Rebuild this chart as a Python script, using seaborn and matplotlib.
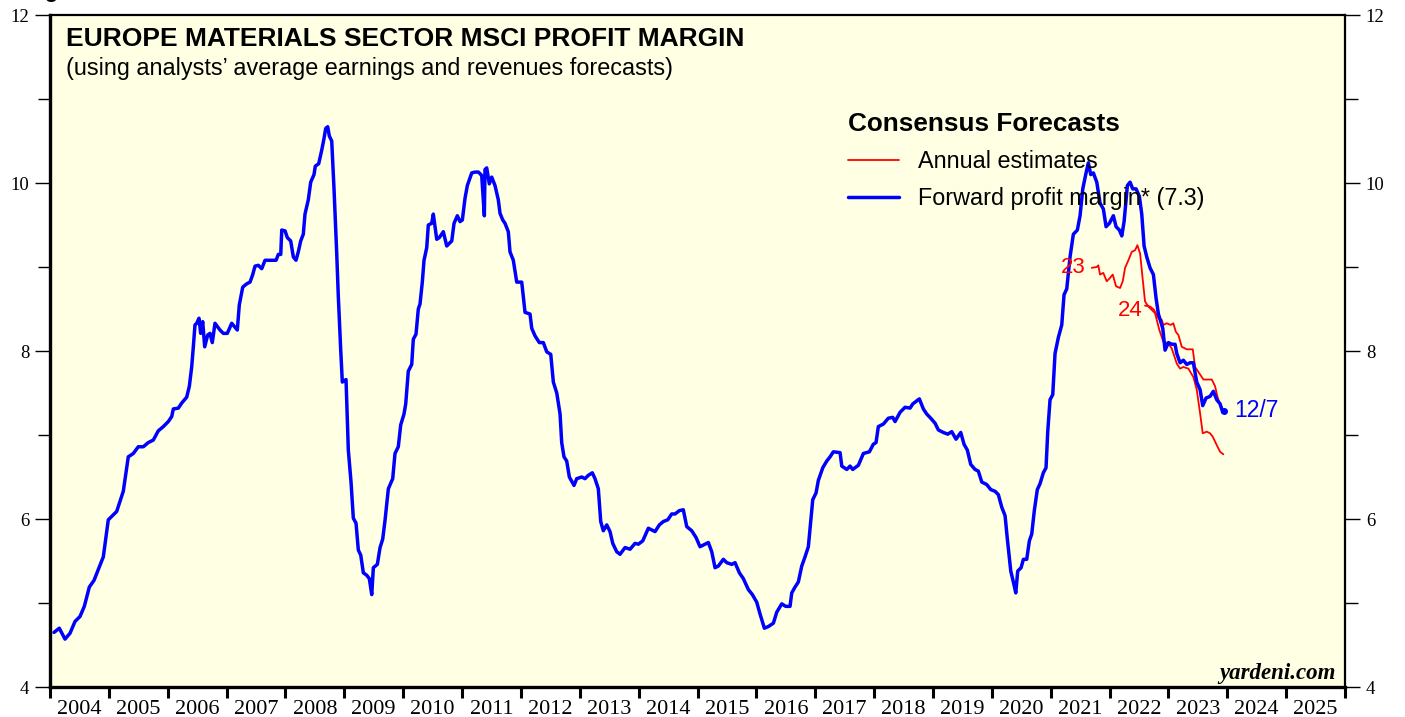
#!/usr/bin/env python3
# -*- coding: utf-8 -*-
"""Europe Materials sector MSCI profit margin (weekly, read off the reference chart)."""

import numpy as np
import pandas as pd
import matplotlib
matplotlib.use("Agg")
import matplotlib.pyplot as plt
from matplotlib.ticker import FixedLocator, NullFormatter
import seaborn as sns

# ---------------------------------------------------------------------------
# Data (decimal years, margin in %)
# ---------------------------------------------------------------------------
fwd_dates = [
    2004.068, 2004.158, 2004.255, 2004.340, 2004.425, 2004.510, 2004.583, 2004.668,
    2004.748, 2004.906, 2004.990, 2005.133, 2005.245, 2005.330, 2005.415, 2005.500,
    2005.585, 2005.670, 2005.755, 2005.840, 2005.925, 2006.010, 2006.068, 2006.095,
    2006.180, 2006.237, 2006.322, 2006.367, 2006.407, 2006.435, 2006.463, 2006.492,
    2006.531, 2006.560, 2006.594, 2006.628, 2006.679, 2006.718, 2006.757, 2006.803,
    2006.888, 2006.944, 2007.012, 2007.087, 2007.182, 2007.216, 2007.274, 2007.342,
    2007.398, 2007.444, 2007.483, 2007.539, 2007.597, 2007.653, 2007.767, 2007.840,
    2007.879, 2007.920, 2007.937, 2007.993, 2008.032, 2008.089, 2008.134, 2008.179,
    2008.218, 2008.259, 2008.303, 2008.332, 2008.388, 2008.429, 2008.485, 2008.507,
    2008.565, 2008.616, 2008.655, 2008.684, 2008.718, 2008.745, 2008.786, 2008.825,
    2008.871, 2008.898, 2008.939, 2008.966, 2009.029, 2009.068, 2009.114, 2009.153,
    2009.199, 2009.238, 2009.279, 2009.323, 2009.381, 2009.425, 2009.466, 2009.493,
    2009.561, 2009.607, 2009.652, 2009.691, 2009.748, 2009.822, 2009.861, 2009.917,
    2009.958, 2010.014, 2010.043, 2010.087, 2010.145, 2010.172, 2010.218, 2010.257,
    2010.286, 2010.325, 2010.354, 2010.400, 2010.427, 2010.485, 2010.512, 2010.570,
    2010.614, 2010.682, 2010.740, 2010.825, 2010.864, 2010.920, 2010.966, 2011.005,
    2011.051, 2011.090, 2011.165, 2011.221, 2011.277, 2011.334, 2011.379, 2011.390,
    2011.419, 2011.463, 2011.504, 2011.560, 2011.616, 2011.645, 2011.691, 2011.730,
    2011.786, 2011.815, 2011.871, 2011.929, 2012.014, 2012.070, 2012.155, 2012.184,
    2012.240, 2012.313, 2012.381, 2012.439, 2012.507, 2012.551, 2012.609, 2012.665,
    2012.693, 2012.732, 2012.778, 2012.823, 2012.902, 2012.948, 2013.033, 2013.089,
    2013.145, 2013.213, 2013.259, 2013.315, 2013.356, 2013.400, 2013.458, 2013.514,
    2013.560, 2013.628, 2013.684, 2013.769, 2013.854, 2013.939, 2013.995, 2014.070,
    2014.165, 2014.279, 2014.352, 2014.420, 2014.494, 2014.562, 2014.619, 2014.692,
    2014.759, 2014.817, 2014.902, 2014.975, 2015.043, 2015.128, 2015.184, 2015.242,
    2015.298, 2015.354, 2015.439, 2015.497, 2015.582, 2015.638, 2015.711, 2015.779,
    2015.864, 2015.932, 2016.006, 2016.062, 2016.136, 2016.204, 2016.289, 2016.346,
    2016.431, 2016.499, 2016.572, 2016.601, 2016.657, 2016.713, 2016.771, 2016.827,
    2016.883, 2016.958, 2017.014, 2017.053, 2017.128, 2017.196, 2017.252, 2017.308,
    2017.422, 2017.451, 2017.536, 2017.592, 2017.637, 2017.733, 2017.818, 2017.920,
    2017.987, 2018.033, 2018.072, 2018.157, 2018.242, 2018.317, 2018.356, 2018.441,
    2018.526, 2018.611, 2018.657, 2018.713, 2018.769, 2018.837, 2018.894, 2018.962,
    2019.036, 2019.092, 2019.177, 2019.251, 2019.319, 2019.392, 2019.472, 2019.528,
    2019.584, 2019.642, 2019.715, 2019.771, 2019.829, 2019.914, 2019.982, 2020.055,
    2020.111, 2020.169, 2020.225, 2020.264, 2020.322, 2020.366, 2020.407, 2020.440,
    2020.497, 2020.536, 2020.593, 2020.638, 2020.678, 2020.722, 2020.773, 2020.819,
    2020.875, 2020.921, 2020.950, 2020.989, 2021.035, 2021.074, 2021.130, 2021.188,
    2021.227, 2021.273, 2021.329, 2021.385, 2021.453, 2021.499, 2021.545, 2021.601,
    2021.640, 2021.681, 2021.725, 2021.783, 2021.839, 2021.895, 2021.941, 2021.997,
    2022.065, 2022.111, 2022.167, 2022.208, 2022.247, 2022.303, 2022.349, 2022.394,
    2022.451, 2022.507, 2022.547, 2022.587, 2022.632, 2022.688, 2022.745, 2022.790,
    2022.830, 2022.870, 2022.904, 2022.943, 2023.000, 2023.057, 2023.113, 2023.142,
    2023.198, 2023.254, 2023.312, 2023.368, 2023.424, 2023.481, 2023.538, 2023.583,
    2023.640, 2023.708, 2023.764, 2023.821, 2023.878, 2023.923, 2023.950,
]
fwd_margin = [
    4.65, 4.70, 4.57, 4.64, 4.78, 4.84, 4.96, 5.19,
    5.27, 5.55, 5.99, 6.09, 6.33, 6.74, 6.78, 6.86,
    6.86, 6.91, 6.94, 7.05, 7.10, 7.16, 7.22, 7.31,
    7.32, 7.38, 7.45, 7.58, 7.81, 8.05, 8.31, 8.33,
    8.39, 8.21, 8.35, 8.05, 8.19, 8.21, 8.10, 8.33,
    8.25, 8.21, 8.21, 8.33, 8.25, 8.55, 8.76, 8.80,
    8.82, 8.91, 9.01, 9.02, 8.98, 9.08, 9.08, 9.08,
    9.15, 9.15, 9.44, 9.43, 9.35, 9.31, 9.12, 9.08,
    9.18, 9.31, 9.39, 9.63, 9.80, 10.01, 10.10, 10.20,
    10.23, 10.39, 10.53, 10.65, 10.67, 10.56, 10.50, 9.93,
    9.16, 8.65, 8.01, 7.63, 7.66, 6.82, 6.44, 6.01,
    5.95, 5.63, 5.57, 5.36, 5.33, 5.29, 5.10, 5.42,
    5.46, 5.66, 5.76, 5.98, 6.36, 6.48, 6.78, 6.86,
    7.12, 7.25, 7.37, 7.76, 7.84, 8.14, 8.20, 8.50,
    8.56, 8.82, 9.08, 9.23, 9.50, 9.52, 9.63, 9.33,
    9.35, 9.42, 9.25, 9.31, 9.52, 9.61, 9.54, 9.56,
    9.82, 9.97, 10.12, 10.13, 10.13, 10.09, 9.61, 10.16,
    10.18, 9.99, 10.07, 9.97, 9.80, 9.64, 9.56, 9.52,
    9.42, 9.18, 9.08, 8.82, 8.82, 8.46, 8.44, 8.27,
    8.18, 8.10, 8.10, 7.99, 7.96, 7.63, 7.50, 7.25,
    6.91, 6.74, 6.69, 6.50, 6.40, 6.48, 6.50, 6.48,
    6.52, 6.55, 6.48, 6.36, 5.97, 5.86, 5.93, 5.85,
    5.71, 5.61, 5.58, 5.66, 5.64, 5.71, 5.70, 5.74,
    5.89, 5.85, 5.93, 5.97, 5.99, 6.06, 6.06, 6.10,
    6.11, 5.91, 5.86, 5.78, 5.67, 5.70, 5.72, 5.61,
    5.42, 5.44, 5.52, 5.48, 5.46, 5.48, 5.36, 5.29,
    5.16, 5.10, 5.01, 4.87, 4.70, 4.72, 4.76, 4.89,
    4.99, 4.96, 4.96, 5.12, 5.19, 5.25, 5.44, 5.55,
    5.67, 6.23, 6.31, 6.46, 6.61, 6.69, 6.74, 6.80,
    6.79, 6.63, 6.59, 6.63, 6.59, 6.64, 6.78, 6.80,
    6.89, 6.91, 7.10, 7.13, 7.20, 7.21, 7.16, 7.27,
    7.33, 7.32, 7.37, 7.40, 7.43, 7.31, 7.25, 7.20,
    7.14, 7.06, 7.03, 7.01, 7.04, 6.95, 7.03, 6.89,
    6.82, 6.65, 6.59, 6.57, 6.44, 6.41, 6.35, 6.33,
    6.29, 6.14, 6.04, 5.76, 5.38, 5.25, 5.12, 5.38,
    5.42, 5.52, 5.52, 5.74, 5.82, 6.10, 6.35, 6.42,
    6.55, 6.61, 7.04, 7.42, 7.48, 7.97, 8.16, 8.31,
    8.67, 8.74, 9.12, 9.39, 9.44, 9.61, 9.93, 10.12,
    10.24, 10.10, 10.12, 10.01, 9.76, 9.69, 9.48, 9.52,
    9.61, 9.48, 9.44, 9.37, 9.54, 9.97, 10.01, 9.93,
    9.93, 9.84, 9.63, 9.25, 9.12, 8.99, 8.91, 8.63,
    8.44, 8.35, 8.27, 8.01, 8.10, 8.08, 8.08, 7.97,
    7.86, 7.89, 7.84, 7.86, 7.86, 7.63, 7.54, 7.35,
    7.44, 7.46, 7.52, 7.42, 7.37, 7.27, 7.29,
]

est23_dates = [
    2021.697, 2021.782, 2021.809, 2021.838, 2021.894, 2021.952, 2022.008, 2022.054,
    2022.111, 2022.179, 2022.224, 2022.264, 2022.320, 2022.377, 2022.434, 2022.473,
    2022.519, 2022.564, 2022.603, 2022.659, 2022.717, 2022.773, 2022.802, 2022.846,
    2022.914, 2023.000, 2023.057, 2023.142, 2023.198, 2023.254, 2023.339, 2023.424,
    2023.481, 2023.538, 2023.583, 2023.651, 2023.708, 2023.753, 2023.821, 2023.878,
    2023.934,
]
est23_margin = [
    8.99, 9.00, 9.02, 8.91, 8.93, 8.83, 8.87, 8.91,
    8.77, 8.75, 8.83, 8.99, 9.08, 9.18, 9.20, 9.26,
    9.16, 8.85, 8.59, 8.53, 8.49, 8.45, 8.37, 8.25,
    8.11, 8.09, 8.03, 7.85, 7.79, 7.81, 7.79, 7.69,
    7.54, 7.26, 7.02, 7.04, 7.02, 6.98, 6.88, 6.80,
    6.77,
]

est24_dates = [
    2022.603, 2022.688, 2022.756, 2022.830, 2022.888, 2022.914, 2022.972, 2023.040,
    2023.084, 2023.125, 2023.170, 2023.227, 2023.312, 2023.414, 2023.453, 2023.510,
    2023.595, 2023.662, 2023.737, 2023.793, 2023.832, 2023.889, 2023.934,
]
est24_margin = [
    8.54, 8.53, 8.49, 8.39, 8.37, 8.31, 8.33, 8.31,
    8.33, 8.23, 8.19, 8.05, 8.02, 8.02, 7.81, 7.75,
    7.66, 7.66, 7.66, 7.58, 7.46, 7.34, 7.30,
]

year_labels = list(range(2004, 2026))
y_major = [4, 6, 8, 10, 12]

BLUE = "#0000FF"
RED = "#FF0000"
PANEL = "#FFFFE3"

# ---------------------------------------------------------------------------
# Figure
# ---------------------------------------------------------------------------
sns.set_style("ticks")
plt.rcParams["font.family"] = ["Liberation Sans", "DejaVu Sans"]
plt.rcParams["text.color"] = "black"
plt.rcParams["xtick.color"] = "black"
plt.rcParams["ytick.color"] = "black"

fig = plt.figure(figsize=(14.05, 7.17), dpi=100)
fig.patch.set_facecolor("white")
ax = fig.add_axes([50 / 1405, 30 / 717, 1295 / 1405, 672 / 717])
ax.set_facecolor(PANEL)

fwd = pd.DataFrame({"date": fwd_dates, "margin": fwd_margin})
e23 = pd.DataFrame({"date": est23_dates, "margin": est23_margin})
e24 = pd.DataFrame({"date": est24_dates, "margin": est24_margin})

sns.lineplot(data=e23, x="date", y="margin", color=RED, lw=1.3, ax=ax)
sns.lineplot(data=e24, x="date", y="margin", color=RED, lw=1.3, ax=ax)
sns.lineplot(data=fwd, x="date", y="margin", color=BLUE, lw=2.5, ax=ax,
             label="_fwd")

ax.set_xlim(2004, 2026)
ax.set_ylim(4, 12)
ax.set_xlabel("")
ax.set_ylabel("")

# --- spines ---
for side in ("left", "bottom"):
    ax.spines[side].set_linewidth(2.4)
for side in ("top", "right"):
    ax.spines[side].set_visible(True)
    ax.spines[side].set_linewidth(1.6)
for s in ax.spines.values():
    s.set_color("black")

# --- x axis: year boundaries ticked, labels centred in the year ---
ax.xaxis.set_major_locator(FixedLocator(list(range(2004, 2027))))
ax.xaxis.set_major_formatter(NullFormatter())
ax.xaxis.set_minor_locator(FixedLocator([y + 0.5 for y in year_labels]))
ax.set_xticklabels([str(y) for y in year_labels], minor=True,
                   fontfamily="Liberation Serif", fontsize=16)
ax.tick_params(axis="x", which="major", direction="out", length=8, width=2.2)
ax.tick_params(axis="x", which="minor", length=0, pad=9)

# --- y axis: both sides ---
ax.yaxis.set_major_locator(FixedLocator(y_major))
ax.yaxis.set_minor_locator(FixedLocator([5, 7, 9, 11]))
ax.set_yticklabels([str(v) for v in y_major], fontfamily="Liberation Serif",
                   fontsize=13.5)
ax.tick_params(axis="y", which="both", direction="out", left=True, right=True,
               labelleft=True, labelright=True, width=1.0)
ax.tick_params(axis="y", which="major", length=11, pad=4)
ax.tick_params(axis="y", which="minor", length=9)
for lbl in ax.get_yticklabels():
    lbl.set_fontfamily("Liberation Serif")

# --- titles ---
ax.text(0.012, 0.982, "EUROPE MATERIALS SECTOR MSCI PROFIT MARGIN",
        transform=ax.transAxes, fontsize=19, fontweight="bold", va="top")
ax.text(0.012, 0.937, "(using analysts\u2019 average earnings and revenues forecasts)",
        transform=ax.transAxes, fontsize=16.8, va="top")
fig.text(0.018, 1.004, "Figure 5.", fontsize=16, fontweight="bold", va="baseline")

# --- legend ---
h_red, = ax.plot([], [], color=RED, lw=1.3)
h_blue, = ax.plot([], [], color=BLUE, lw=2.5)
leg = ax.legend([h_red, h_blue],
                ["Annual estimates", "Forward profit margin* (7.3)"],
                title="Consensus Forecasts", loc="upper left",
                bbox_to_anchor=(0.6, 0.887), frameon=False, fontsize=16.8,
                handlelength=2.2, handletextpad=0.8, labelspacing=0.62,
                alignment="left")
leg.get_title().set_fontsize(18.8)
leg.get_title().set_fontweight("bold")
leg._legend_box.sep = 10

# --- annotations ---
ax.text(2021.60, 8.99, "23", color=RED, fontsize=16, ha="right", va="center")
ax.text(2022.56, 8.48, "24", color=RED, fontsize=16, ha="right", va="center")
ax.text(2024.12, 7.29, "12/7", color=BLUE, fontsize=16.5, ha="left", va="center")
ax.plot([fwd_dates[-1]], [fwd_margin[-1]], "o", color=BLUE, ms=4)
ax.text(0.993, 0.005, "yardeni.com", transform=ax.transAxes, ha="right",
        va="bottom", fontfamily="Liberation Serif", fontsize=16.5,
        fontweight="bold", fontstyle="italic")

fig.savefig("out.png", dpi=100)
